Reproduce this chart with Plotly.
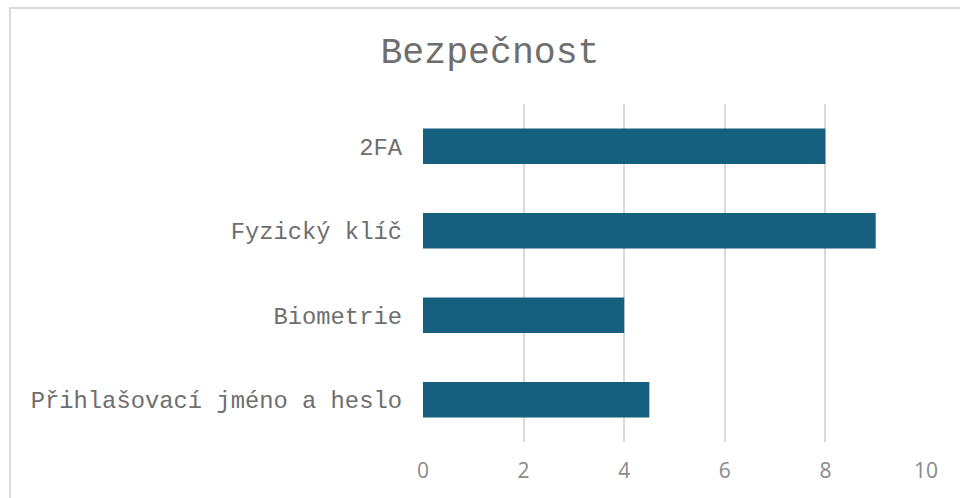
import plotly.graph_objects as go

title_text = "Bezpečnost"
categories = ["Přihlašovací jméno a heslo", "Biometrie", "Fyzický klíč", "2FA"]
values = [4.5, 4, 9, 8]
x_ticks = [0, 2, 4, 6, 8, 10]

W, H = 960, 498
L, R, T, B = 423, 926, 104, 442

fig = go.Figure(go.Bar(
    y=categories, x=values, orientation="h",
    marker=dict(color="#175f7f", line=dict(width=0)),
    width=0.42,
))

fig.update_layout(
    width=W, height=H,
    margin=dict(l=L, r=W - R, t=T, b=H - B, pad=0),
    paper_bgcolor="white", plot_bgcolor="white",
    showlegend=False,
    title=dict(text=title_text, x=490 / W, xref="container", xanchor="center",
               y=1 - 50 / H, yref="container", yanchor="middle",
               font=dict(family="Courier New, Liberation Mono, monospace", size=36.5, color="#6e6e6e")),
    xaxis=dict(range=[0, 10], tickvals=x_ticks, showgrid=True, gridcolor="#d9d9d9", gridwidth=2,
               zeroline=False, showline=False, ticks="",
               tickfont=dict(family="Open Sans, sans-serif", size=21, color="#8a8a8a"),
               ticklabelstandoff=14),
    yaxis=dict(showgrid=False, zeroline=False, showline=False, ticks="",
               tickfont=dict(family="Courier New, Liberation Mono, monospace", size=23.8, color="#6e6e6e"),
               ticklabelstandoff=20),
    shapes=[dict(type="rect", xref="paper", yref="paper",
                 x0=(10 - L) / (R - L), x1=1.2,
                 y0=-0.5, y1=(B - 8) / (B - T),
                 line=dict(color="#d9d9d9", width=2), fillcolor="rgba(0,0,0,0)", layer="below")],
)

fig.write_html("out.html")
